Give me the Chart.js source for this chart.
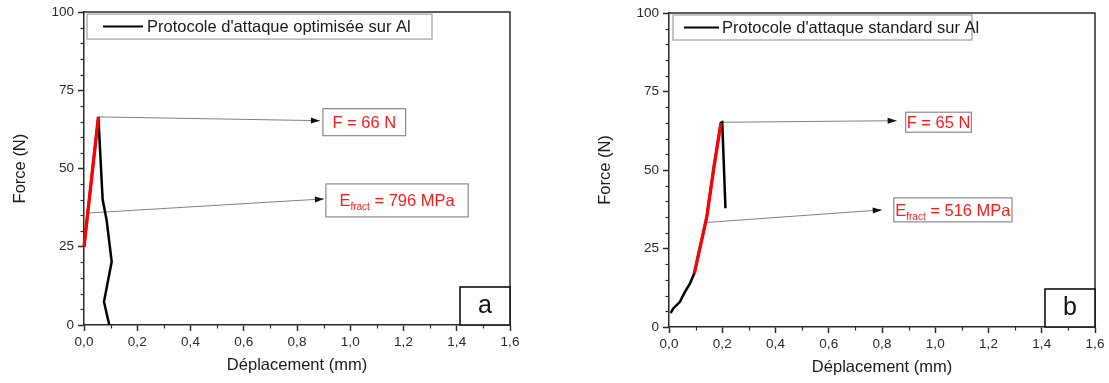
<!DOCTYPE html>
<html><head><meta charset="utf-8">
<script src="https://cdn.jsdelivr.net/npm/chart.js@4.4.1/dist/chart.umd.min.js"></script>
<style>
html,body{margin:0;padding:0;background:#fff;width:1109px;height:383px;overflow:hidden}
.wrap{position:absolute;top:0;height:383px}
#wa{left:0;width:555px}
#wb{left:555px;width:554px}
</style></head><body>
<div class="wrap" id="wa"><canvas id="ca" width="555" height="383"></canvas></div>
<div class="wrap" id="wb"><canvas id="cb" width="554" height="383"></canvas></div>
<script>
// ---------- data ----------
const xTickLabels = ['0,0','0,2','0,4','0,6','0,8','1,0','1,2','1,4','1,6'];
const yTickLabels = ['0','25','50','75','100'];

// (a) optimised protocol
const aCurveX = [0.0, 0.054, 0.070, 0.085, 0.104, 0.075, 0.095];
const aCurveY = [25.0, 66.5, 40.1, 33.5, 20.2, 7.4, 0.0];
const aFitX = [0.0, 0.054];
const aFitY = [25.0, 66.5];
const aArrowFX = [0.056, 0.886];
const aArrowFY = [66.5, 65.3];
const aArrowEX = [0.019, 0.901];
const aArrowEY = [35.8, 40.3];

// (b) standard protocol
const bCurveX = [0.006, 0.016, 0.041, 0.060, 0.079, 0.095, 0.142, 0.169, 0.195, 0.200, 0.212];
const bCurveY = [4.4, 5.9, 8.0, 11.2, 13.9, 17.1, 35.1, 51.1, 65.0, 65.2, 37.8];
const bFitX = [0.095, 0.142, 0.169, 0.195];
const bFitY = [17.1, 35.1, 51.1, 65.0];
const bArrowFX = [0.199, 0.855];
const bArrowFY = [65.2, 65.7];
const bArrowEX = [0.142, 0.799];
const bArrowEY = [33.3, 37.3];

const aLabel = "Protocole d'attaque optimisée sur Al";
const bLabel = "Protocole d'attaque standard sur Al";
const aValues = {F: '66', E: '796'};
const bValues = {F: '65', E: '516'};

// ---------- helpers ----------
const FONT = "'Liberation Sans', Arial, sans-serif";
const zip = (xs, ys) => xs.map((x, i) => ({x, y: ys[i]}));

const decor = {
  id: 'decor',
  afterDatasetsDraw(chart, args, o) {
    const ctx = chart.ctx, a = chart.chartArea, xs = chart.scales.x, ys = chart.scales.y;
    ctx.save();
    // frame top/right
    ctx.strokeStyle = '#2a2a2a'; ctx.lineWidth = 1.5;
    ctx.beginPath(); ctx.moveTo(a.left, a.top); ctx.lineTo(a.right, a.top); ctx.lineTo(a.right, a.bottom); ctx.stroke();
    // minor ticks
    ctx.lineWidth = 1.2;
    for (let i = 1; i < 20; i++) {
      if (i % 5 === 0) continue;
      const p = Math.round(ys.getPixelForValue(i * 5)) + 0.5;
      ctx.beginPath(); ctx.moveTo(a.left - 3.5, p); ctx.lineTo(a.left, p); ctx.stroke();
    }
    for (let i = 1; i < 16; i += 2) {
      const p = Math.round(xs.getPixelForValue(i * 0.1)) + 0.5;
      ctx.beginPath(); ctx.moveTo(p, a.bottom); ctx.lineTo(p, a.bottom + 3.5); ctx.stroke();
    }
    // arrow heads
    ctx.fillStyle = '#111';
    o.arrows.forEach(idx => {
      const pts = chart.getDatasetMeta(idx).data;
      const p1 = pts[pts.length - 2], p2 = pts[pts.length - 1];
      const ang = Math.atan2(p2.y - p1.y, p2.x - p1.x);
      ctx.save(); ctx.translate(p2.x, p2.y); ctx.rotate(ang);
      ctx.beginPath(); ctx.moveTo(0, 0); ctx.lineTo(-9, -3); ctx.lineTo(-9, 3); ctx.closePath(); ctx.fill();
      ctx.restore();
    });
    // annotation boxes
    o.boxes.forEach(b => {
      const pts = chart.getDatasetMeta(b.ds).data;
      const tip = pts[pts.length - 1];
      const big = `16.5px ${FONT}`, small = `10px ${FONT}`;
      ctx.font = big;
      let w;
      if (b.sub) {
        const w1 = ctx.measureText(b.main).width;
        ctx.font = small; const w2 = ctx.measureText(b.sub).width;
        ctx.font = big; const w3 = ctx.measureText(b.rest).width;
        w = w1 + w2 + w3;
      } else w = ctx.measureText(b.main).width;
      const bx = tip.x + b.gap, cy = tip.y + b.dy, bw = w + 2 * b.padX, bh = b.h;
      ctx.fillStyle = '#fff'; ctx.fillRect(bx, cy - bh / 2, bw, bh);
      ctx.strokeStyle = '#8a8a8a'; ctx.lineWidth = 1.2; ctx.strokeRect(bx, cy - bh / 2, bw, bh);
      ctx.fillStyle = '#ff1a1a'; ctx.textBaseline = 'alphabetic'; ctx.textAlign = 'left';
      let tx = bx + b.padX; const base = cy + 6;
      ctx.font = big; ctx.fillText(b.main, tx, base); tx += ctx.measureText(b.main).width;
      if (b.sub) {
        ctx.font = small; ctx.fillText(b.sub, tx, base + 4); tx += ctx.measureText(b.sub).width;
        ctx.font = big; ctx.fillText(b.rest, tx, base);
      }
    });
    // legend
    const L = o.legend;
    const lx = a.left + L.dx, ly = a.top + 2, lh = 25;
    ctx.fillStyle = '#fff'; ctx.fillRect(lx, ly, L.w, lh);
    ctx.strokeStyle = '#a0a0a0'; ctx.lineWidth = 1.2; ctx.strokeRect(lx, ly, L.w, lh);
    ctx.strokeStyle = '#000'; ctx.lineWidth = 2;
    ctx.beginPath(); ctx.moveTo(lx + L.lineX, ly + lh / 2); ctx.lineTo(lx + L.lineX + L.lineLen, ly + lh / 2); ctx.stroke();
    ctx.fillStyle = '#1a1a1a'; ctx.font = `16.5px ${FONT}`; ctx.textBaseline = 'middle';
    ctx.fillText(chart.data.datasets[1].label, lx + L.lineX + L.lineLen + L.gap, ly + lh / 2 + 1);
    // panel letter
    ctx.fillStyle = '#fff'; ctx.fillRect(a.right - 50, a.bottom - 38, 50, 38);
    ctx.strokeStyle = '#111'; ctx.lineWidth = 1.6; ctx.strokeRect(a.right - 50, a.bottom - 38, 50, 38);
    ctx.fillStyle = '#111'; ctx.font = `25px ${FONT}`; ctx.textAlign = 'center'; ctx.textBaseline = 'middle';
    ctx.fillText(o.letter, a.right - 25, a.bottom - 19);
    // axis titles
    ctx.fillStyle = '#1a1a1a'; ctx.font = `16.5px ${FONT}`;
    ctx.fillText('Déplacement (mm)', (a.left + a.right) / 2, a.bottom + 40);
    ctx.save(); ctx.translate(a.left - 64, (a.top + a.bottom) / 2); ctx.rotate(-Math.PI / 2);
    ctx.fillText('Force (N)', 0, 0); ctx.restore();
    ctx.restore();
  }
};

function makeChart(id, cfg) {
  const ds = [
    {data: zip(cfg.fitX, cfg.fitY), borderColor: '#ff0000', borderWidth: 3.3},
    {label: cfg.label, data: zip(cfg.curveX, cfg.curveY), borderColor: '#000', borderWidth: 2.5},
    {data: zip(cfg.arrFX, cfg.arrFY), borderColor: '#808080', borderWidth: 1},
    {data: zip(cfg.arrEX, cfg.arrEY), borderColor: '#808080', borderWidth: 1}
  ].map(d => Object.assign({showLine: true, pointRadius: 0, pointHoverRadius: 0, tension: 0, fill: false, clip: false}, d));
  return new Chart(document.getElementById(id), {
    type: 'scatter',
    data: {datasets: ds},
    options: {
      responsive: false, animation: false, events: [],
      layout: {padding: cfg.padding},
      plugins: {
        legend: {display: false}, tooltip: {enabled: false},
        decor: {
          arrows: [2, 3], letter: cfg.letter, legend: cfg.legend,
          boxes: [
            Object.assign({ds: 2, main: `F = ${cfg.vals.F} N`}, cfg.boxF),
            Object.assign({ds: 3, main: 'E', sub: 'fract', rest: ` = ${cfg.vals.E} MPa`}, cfg.boxE)
          ]
        }
      },
      scales: {
        x: {
          type: 'linear', min: 0, max: 1.6,
          afterFit: s => { s.height = cfg.xH; },
          grid: {display: true, drawOnChartArea: false, drawTicks: true, tickLength: 6, tickWidth: 1.5, tickColor: '#2a2a2a', color: '#2a2a2a'},
          border: {display: true, color: '#2a2a2a', width: 1.5},
          ticks: {stepSize: 0.2, autoSkip: false, maxRotation: 0, padding: 3, color: '#2a2a2a',
            font: {family: FONT, size: 13.5}, callback: (v, i) => xTickLabels[i]}
        },
        y: {
          type: 'linear', min: 0, max: 100,
          afterFit: s => { s.width = cfg.yW; },
          grid: {display: true, drawOnChartArea: false, drawTicks: true, tickLength: 6, tickWidth: 1.5, tickColor: '#2a2a2a', color: '#2a2a2a'},
          border: {display: true, color: '#2a2a2a', width: 1.5},
          ticks: {stepSize: 25, autoSkip: false, padding: 4, color: '#2a2a2a',
            font: {family: FONT, size: 13.5}, callback: (v, i) => yTickLabels[i]}
        }
      }
    },
    plugins: [decor]
  });
}

makeChart('ca', {
  label: aLabel, letter: 'a', vals: aValues,
  curveX: aCurveX, curveY: aCurveY, fitX: aFitX, fitY: aFitY,
  arrFX: aArrowFX, arrFY: aArrowFY, arrEX: aArrowEX, arrEY: aArrowEY,
  padding: {left: 0, right: 45, top: 12, bottom: 0}, yW: 84, xH: 58,
  legend: {dx: 3, w: 345, lineX: 16, lineLen: 40, gap: 4},
  boxF: {gap: 3, dy: 1.5, padX: 9.5, h: 27},
  boxE: {gap: 2, dy: 1.5, padX: 13.5, h: 33}
});
makeChart('cb', {
  label: bLabel, letter: 'b', vals: bValues,
  curveX: bCurveX, curveY: bCurveY, fitX: bFitX, fitY: bFitY,
  arrFX: bArrowFX, arrFY: bArrowFY, arrEX: bArrowEX, arrEY: bArrowEY,
  padding: {left: 0, right: 14, top: 13, bottom: 0}, yW: 114, xH: 56,
  legend: {dx: 4, w: 299, lineX: 11, lineLen: 35, gap: 3},
  boxF: {gap: 9, dy: 1.5, padX: 1, h: 20},
  boxE: {gap: 12, dy: 0, padX: 1.5, h: 24}
});
</script>
</body></html>
